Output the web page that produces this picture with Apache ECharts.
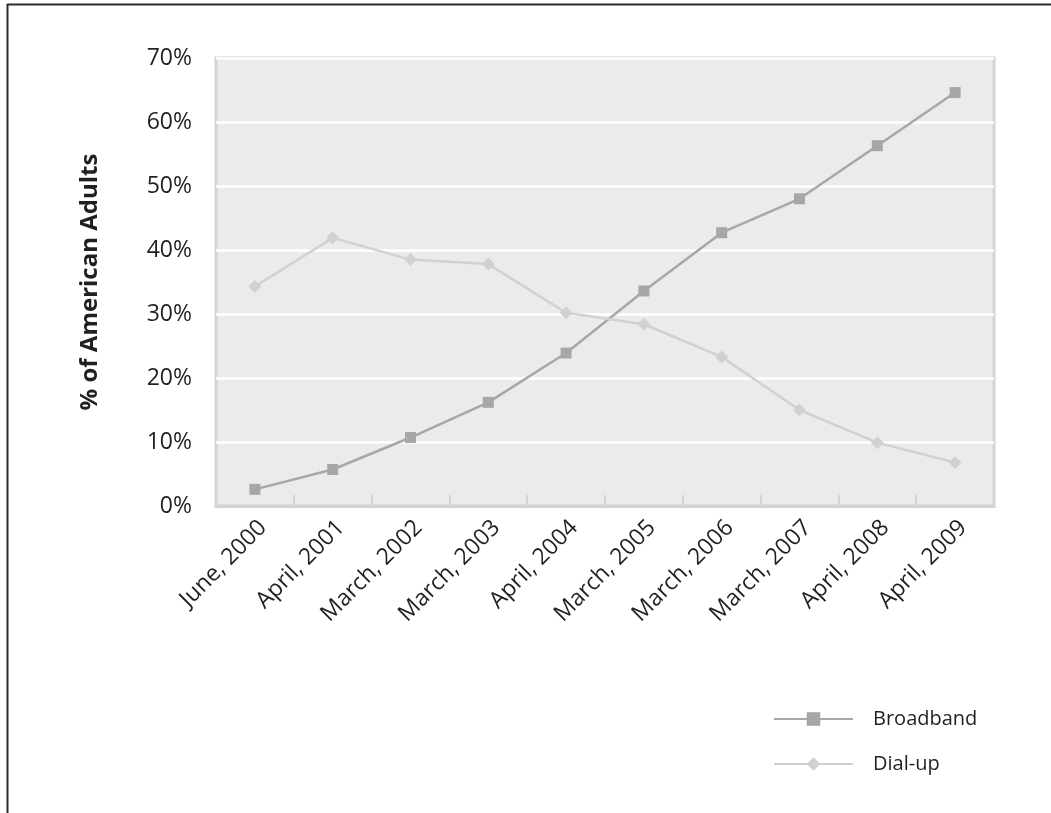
<!DOCTYPE html>
<html>
<head>
<meta charset="utf-8">
<script src="https://cdn.jsdelivr.net/npm/echarts@6/dist/echarts.min.js"></script>
<style>
html,body{margin:0;padding:0;background:#fff;}
#chart{width:1051px;height:813px;}
</style>
</head>
<body>
<div id="chart"></div>
<script>
const categories = ["June, 2000","April, 2001","March, 2002","March, 2003","April, 2004","March, 2005","March, 2006","March, 2007","April, 2008","April, 2009"];
const broadband = [2.6, 5.7, 10.7, 16.2, 23.9, 33.6, 42.7, 48.0, 56.3, 64.6];
const dialup = [34.3, 41.9, 38.5, 37.8, 30.2, 28.4, 23.3, 15.0, 9.9, 6.8];
const yTicks = {min: 0, max: 70, interval: 10};
const yTitle = "% of American Adults";

const FONT = "Open Sans";
const chart = echarts.init(document.getElementById('chart'), null, {renderer: 'canvas'});
chart.setOption({
  animation: false,
  backgroundColor: '#ffffff',
  textStyle: {fontFamily: FONT, color: '#231f20'},
  graphic: [
    {type: 'line', shape: {x1: 7, y1: 4.5, x2: 1051, y2: 4.5}, style: {stroke: '#2a2a2a', lineWidth: 2}},
    {type: 'line', shape: {x1: 7.5, y1: 4, x2: 7.5, y2: 813}, style: {stroke: '#2a2a2a', lineWidth: 2}}
  ],
  grid: {
    left: 216, top: 58, width: 778, height: 448,
    show: true, backgroundColor: '#ebebed', borderColor: '#d3d3d5', borderWidth: 3
  },
  legend: {
    orient: 'vertical',
    left: 768, top: 704,
    itemWidth: 79, itemHeight: 17, itemGap: 25,
    textStyle: {fontFamily: FONT, fontSize: 20, color: '#231f20', padding: [0, 0, 0, 15]},
    data: ['Broadband', 'Dial-up']
  },
  xAxis: {
    type: 'category',
    data: categories,
    boundaryGap: true,
    axisLine: {show: true, lineStyle: {color: '#d3d3d5', width: 3}},
    axisTick: {show: true, inside: true, length: 11, lineStyle: {color: '#d3d3d5', width: 2}},
    axisLabel: {rotate: 45, fontSize: 23, margin: 10, verticalAlign: 'top', color: '#231f20', fontFamily: FONT, interval: 0},
    splitLine: {show: false}
  },
  yAxis: {
    type: 'value',
    min: yTicks.min, max: yTicks.max, interval: yTicks.interval,
    name: yTitle,
    nameLocation: 'middle',
    nameRotate: 90,
    nameGap: 114,
    nameTextStyle: {fontSize: 24, fontWeight: 'bold', color: '#231f20', fontFamily: FONT},
    axisLine: {show: false},
    axisTick: {show: false},
    axisLabel: {fontSize: 23, margin: 24, color: '#231f20', fontFamily: FONT, formatter: '{value}%'},
    splitLine: {show: true, lineStyle: {color: '#ffffff', width: 2.5}}
  },
  series: [
    {
      name: 'Broadband', type: 'line', data: broadband,
      symbol: 'rect', symbolSize: 11,
      lineStyle: {color: '#a7a7a9', width: 2.5},
      itemStyle: {color: '#a7a7a9'}
    },
    {
      name: 'Dial-up', type: 'line', data: dialup,
      symbol: 'diamond', symbolSize: 13,
      lineStyle: {color: '#d1d1d3', width: 2.5},
      itemStyle: {color: '#d1d1d3'}
    }
  ]
});
</script>
</body>
</html>
